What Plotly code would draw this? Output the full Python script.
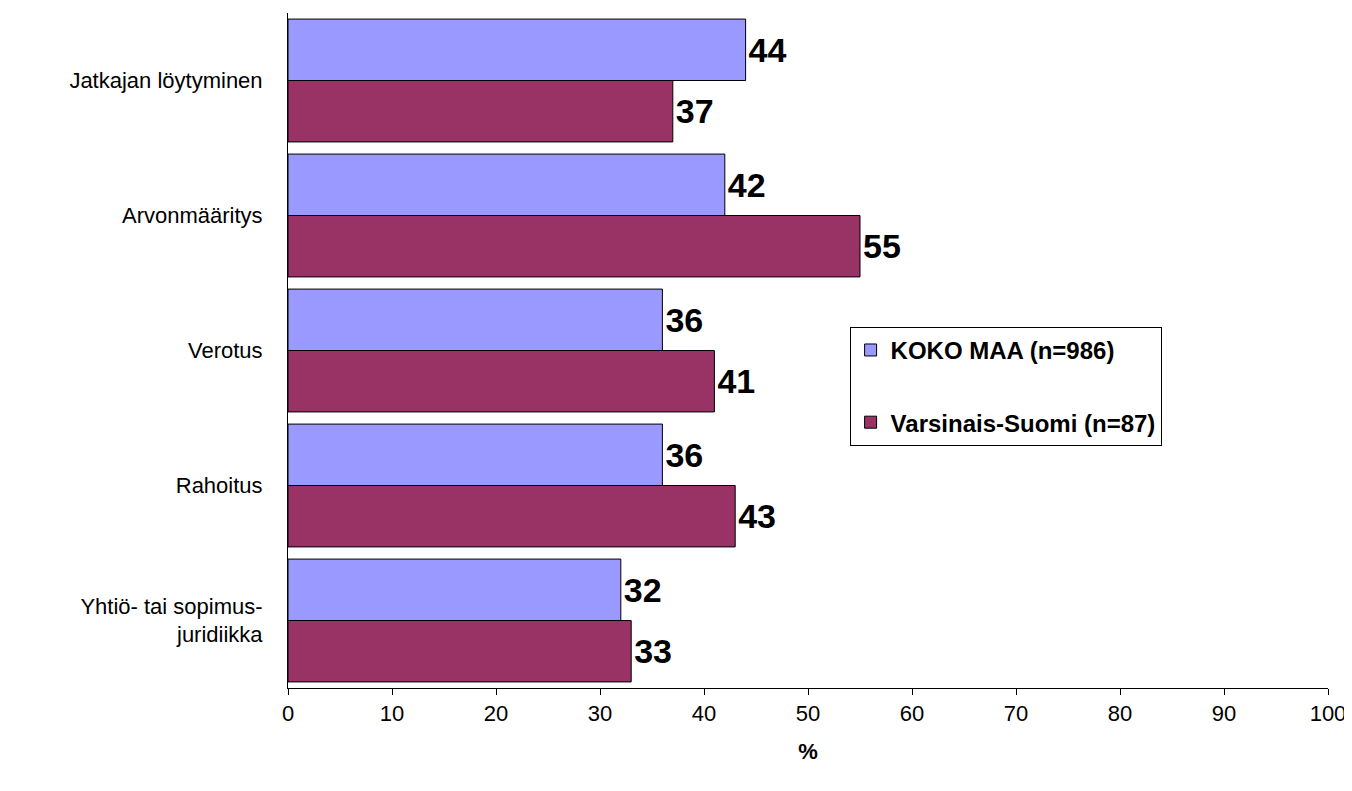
import plotly.graph_objects as go

categories = ["Jatkajan löytyminen", "Arvonmääritys", "Verotus", "Rahoitus",
              "Yhtiö- tai sopimus-<br>juridiikka"]
koko_maa = [44, 42, 36, 36, 32]
varsinais = [37, 55, 41, 43, 33]
FONT = "Liberation Sans, Arial"

fig = go.Figure()
fig.add_trace(go.Bar(
    y=categories, x=koko_maa, orientation="h", name="<b>KOKO MAA (n=986)</b>",
    legendgroup="a",
    marker=dict(color="#9999FF", line=dict(color="black", width=1)),
    text=koko_maa, textposition="outside",
    textfont=dict(size=34, family=FONT, color="black"), cliponaxis=False))
fig.add_trace(go.Bar(
    y=categories, x=varsinais, orientation="h", name="<b>Varsinais-Suomi (n=87)</b>",
    legendgroup="b",
    marker=dict(color="#993366", line=dict(color="black", width=1)),
    text=varsinais, textposition="outside",
    textfont=dict(size=34, family=FONT, color="black"), cliponaxis=False))

fig.update_layout(
    width=1352, height=791, barmode="group", bargap=0.09, bargroupgap=0,
    plot_bgcolor="white", paper_bgcolor="white",
    margin=dict(l=280, r=32, t=5, b=111),
    font=dict(family=FONT, size=22, color="black"),
    xaxis=dict(range=[0, 100], dtick=10, showgrid=False, showline=True,
               linecolor="black", ticks="outside", ticklen=6, tickcolor="black",
               title=dict(text="<b>%</b>", font=dict(size=22), standoff=18),
               tickfont=dict(size=22), automargin=False),
    yaxis=dict(autorange="reversed", showline=True, linecolor="black",
               showgrid=False, ticks="", ticklabelstandoff=20,
               tickfont=dict(size=22), automargin=False),
    legend=dict(x=0.54, y=0.535, xanchor="left", yanchor="top",
                bordercolor="black", borderwidth=1,
                font=dict(size=24, family=FONT), bgcolor="white",
                itemwidth=30, tracegroupgap=38),
)
fig.update_traces(texttemplate="<b>%{text}</b>")
fig.write_html("out.html")
